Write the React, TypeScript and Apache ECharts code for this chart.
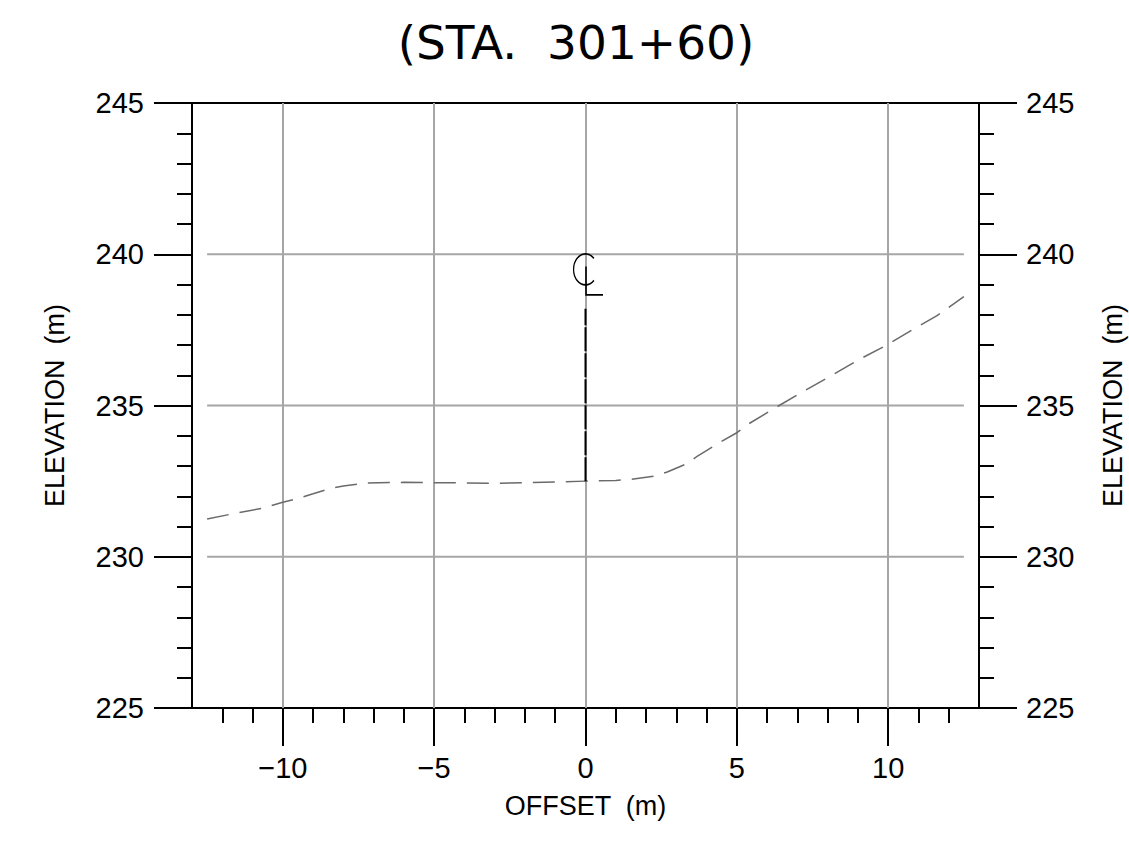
import { useEffect, useRef } from 'react';
import * as echarts from 'echarts';

// ---- data ----
const TITLE = '(STA.  301+60)';
const X_NAME = 'OFFSET  (m)';
const Y_NAME = 'ELEVATION  (m)';

const X_MIN = -13;
const X_MAX = 13;
const X_MAJOR_MIN = -10;
const X_MAJOR_MAX = 10;
const X_MAJOR_STEP = 5;
const X_MINOR_MIN = -12;
const X_MINOR_MAX = 12;
const X_MINOR_STEP = 1;

const Y_MIN = 225;
const Y_MAX = 245;
const Y_MAJOR_STEP = 5;
const Y_MINOR_SPLIT = 5;

const H_GRID_LEVELS = [230, 235, 240];
const H_GRID_SPAN = [-12.5, 12.5];

const GROUND_OFFSET = [
  -12.5, -11.5, -10.7, -10, -9.5, -9, -8.4, -8, -7.2, -6, -5, -4, -3, -2, -1, 0,
  1, 1.5, 2.3, 2.7, 3.4, 3.7, 4.4, 5, 5.4, 6.4, 7, 8, 9, 9.9, 10.9, 11.6, 12.5,
];
const GROUND_ELEV = [
  231.25, 231.45, 231.6, 231.8, 231.93, 232.08, 232.27, 232.34, 232.44, 232.46,
  232.45, 232.44, 232.43, 232.45, 232.47, 232.5, 232.52, 232.56, 232.67, 232.8,
  233.1, 233.33, 233.76, 234.1, 234.4, 235.0, 235.35, 235.92, 236.5, 236.97,
  237.56, 237.96, 238.6,
];

const CL_OFFSET = [0, 0];
const CL_ELEV = [232.5, 238.2];
const CL_SYMBOL = [0, 239.5];

// ---- layout ----
const CW = 1129;
const CH = 845;
const GL = 192;
const GT = 103;
const GW = 787;
const GH = 605;
const FONT = '"Liberation Sans", Arial, sans-serif';
const TITLE_FONT = '"DejaVu Sans", sans-serif';

export default function App() {
  const ref = useRef<HTMLDivElement>(null);
  useEffect(() => {
    if (!ref.current) return;
    const chart = echarts.init(ref.current, undefined, { renderer: 'svg' });
    const u = GW / (X_MAX - X_MIN);
    const black = { color: '#000', width: 2 };
    const hidden = {
      axisLine: { show: false, onZero: false },
      axisTick: { show: false },
      axisLabel: { show: false },
      splitLine: { show: false },
    };
    const fmt = (v: number) => (v < 0 ? '\u2212' + Math.abs(v) : String(v));
    const yAxisCommon = (pos: 'left' | 'right', margin: number, gap: number) => ({
      gridIndex: 0,
      type: 'value',
      position: pos,
      min: Y_MIN,
      max: Y_MAX,
      interval: Y_MAJOR_STEP,
      axisLine: { show: false, onZero: false },
      axisTick: { show: true, length: 38, lineStyle: black },
      minorTick: { show: true, splitNumber: Y_MINOR_SPLIT, length: 15, lineStyle: black },
      axisLabel: { show: true, margin, fontSize: 29, color: '#000', fontFamily: FONT },
      splitLine: { show: false },
      minorSplitLine: { show: false },
      name: Y_NAME,
      nameLocation: 'middle',
      nameGap: gap,
      nameRotate: 90,
      nameTextStyle: { fontSize: 27, color: '#000', fontFamily: FONT },
    });
    const gridBase = { top: GT, height: GH, outerBoundsMode: 'none', containLabel: false };
    const option: any = {
      animation: false,
      backgroundColor: '#fff',
      title: {
        text: TITLE,
        left: 571,
        top: 14,
        textAlign: 'center',
        textStyle: { fontSize: 47, fontWeight: 'normal', color: '#000', fontFamily: TITLE_FONT },
      },
      grid: [
        { ...gridBase, left: GL, width: GW, show: true, borderColor: '#000', borderWidth: 2, backgroundColor: 'transparent' },
        { ...gridBase, left: GL + (X_MINOR_MIN - X_MIN) * u, width: (X_MINOR_MAX - X_MINOR_MIN) * u },
        { ...gridBase, left: GL + (X_MAJOR_MIN - X_MIN) * u, width: (X_MAJOR_MAX - X_MAJOR_MIN) * u },
      ],
      xAxis: [
        { gridIndex: 0, type: 'value', min: X_MIN, max: X_MAX, ...hidden },
        {
          gridIndex: 1, type: 'value', min: X_MINOR_MIN, max: X_MINOR_MAX, interval: X_MINOR_STEP,
          axisLine: { show: false, onZero: false },
          axisTick: { show: true, length: 15, lineStyle: black },
          axisLabel: { show: false },
          splitLine: { show: false },
        },
        {
          gridIndex: 2, type: 'value', min: X_MAJOR_MIN, max: X_MAJOR_MAX, interval: X_MAJOR_STEP,
          axisLine: { show: false, onZero: false },
          axisTick: { show: true, length: 38, lineStyle: black },
          axisLabel: { show: true, margin: 45, fontSize: 29, color: '#000', fontFamily: FONT, formatter: fmt },
          splitLine: { show: true, lineStyle: { color: '#a6a6a6', width: 2 } },
          name: X_NAME,
          nameLocation: 'middle',
          nameGap: 84,
          nameTextStyle: { fontSize: 27, color: '#000', fontFamily: FONT },
        },
      ],
      yAxis: [
        yAxisCommon('left', 48, 124),
        yAxisCommon('right', 47, 120),
        { gridIndex: 1, type: 'value', min: Y_MIN, max: Y_MAX, show: false },
        { gridIndex: 2, type: 'value', min: Y_MIN, max: Y_MAX, show: false },
      ],
      series: [
        {
          type: 'custom',
          xAxisIndex: 0,
          yAxisIndex: 0,
          silent: true,
          z: 1,
          data: H_GRID_LEVELS.map((v) => [0, v]),
          renderItem: (_p: any, api: any) => {
            const v = api.value(1);
            const a = api.coord([H_GRID_SPAN[0], v]);
            const b = api.coord([H_GRID_SPAN[1], v]);
            return {
              type: 'line',
              shape: { x1: a[0], y1: a[1], x2: b[0], y2: b[1] },
              style: { stroke: '#a6a6a6', lineWidth: 2 },
            };
          },
        },
        {
          type: 'line',
          xAxisIndex: 0,
          yAxisIndex: 0,
          data: GROUND_OFFSET.map((x, i) => [x, GROUND_ELEV[i]]),
          showSymbol: false,
          symbol: 'none',
          silent: true,
          z: 3,
          lineStyle: { color: '#6a6a6a', width: 1.5, type: [22, 11] },
        },
        {
          type: 'line',
          xAxisIndex: 0,
          yAxisIndex: 0,
          data: CL_OFFSET.map((x, i) => [x, CL_ELEV[i]]),
          showSymbol: false,
          symbol: 'none',
          silent: true,
          z: 4,
          lineStyle: { color: '#000', width: 2, type: [24, 2] },
        },
        {
          type: 'custom',
          xAxisIndex: 0,
          yAxisIndex: 0,
          silent: true,
          z: 5,
          data: [CL_SYMBOL],
          renderItem: (_p: any, api: any) => {
            const p = api.coord([api.value(0), api.value(1)]);
            return {
              type: 'group',
              x: p[0],
              y: p[1],
              children: [
                {
                  type: 'arc',
                  scaleX: 0.77,
                  shape: { cx: 0, cy: 0, r: 15.5, startAngle: -Math.PI * 0.25, endAngle: Math.PI * 0.25, clockwise: false },
                  style: { stroke: '#000', lineWidth: 1.6, fill: 'none' },
                },
                {
                  type: 'polyline',
                  shape: { points: [[0.5, -3], [0.5, 25.5], [17.5, 25.5]] },
                  style: { stroke: '#000', lineWidth: 1.6, fill: 'none' },
                },
              ],
            };
          },
        },
      ],
    };
    chart.setOption(option);
    return () => chart.dispose();
  }, []);
  return (
    <div
      ref={ref}
      style={{ position: 'absolute', left: 0, top: 0, width: CW, height: CH }}
    />
  );
}
